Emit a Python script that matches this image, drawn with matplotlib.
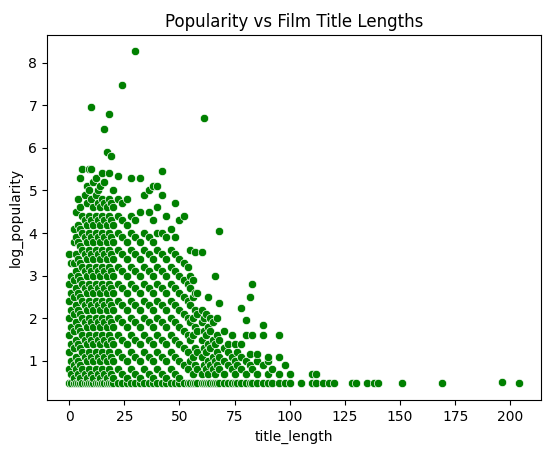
import matplotlib
matplotlib.use("Agg")
import matplotlib.pyplot as plt
import seaborn as sns

##Column samples: title length -> list of log_popularity values
dense_lengths = [0, 1, 2, 3, 4, 5, 6, 7, 8, 9, 10, 11, 12, 13, 14, 15, 16, 17, 18, 19, 20,
                 22, 24, 26, 28, 30, 32, 34, 36, 38, 40, 42, 44, 46, 48, 50]
dense_pops = [
    [0.5, 0.8, 1.2, 1.6, 2.0, 2.4, 2.8, 3.5],
    [0.5, 0.7, 1.0, 1.4, 1.8, 2.2, 2.6, 3.0, 3.3],
    [0.5, 0.6, 0.9, 1.3, 1.7, 2.1, 2.5, 2.9, 3.3, 3.8, 4.1],
    [0.5, 0.8, 1.1, 1.5, 1.9, 2.3, 2.7, 3.1, 3.5, 3.9, 4.5],
    [0.5, 0.7, 1.0, 1.4, 1.8, 2.2, 2.6, 3.0, 3.4, 3.8, 4.2, 4.8],
    [0.5, 0.6, 0.9, 1.3, 1.7, 2.1, 2.5, 2.9, 3.3, 3.7, 4.1, 4.6, 5.3],
    [0.5, 0.8, 1.2, 1.6, 2.0, 2.4, 2.8, 3.2, 3.6, 4.0, 4.4, 5.5],
    [0.5, 0.7, 1.1, 1.5, 1.9, 2.3, 2.7, 3.1, 3.5, 3.9, 4.3, 4.9],
    [0.5, 0.6, 1.0, 1.4, 1.8, 2.2, 2.6, 3.0, 3.4, 3.8, 4.2, 4.7, 5.1],
    [0.5, 0.8, 1.2, 1.6, 2.0, 2.4, 2.8, 3.2, 3.6, 4.0, 4.4, 5.0, 5.5],
    [0.5, 0.7, 1.1, 1.5, 1.9, 2.3, 2.7, 3.1, 3.5, 3.9, 4.3, 4.8, 5.5, 6.95],
    [0.5, 0.6, 1.0, 1.4, 1.8, 2.2, 2.6, 3.0, 3.4, 3.8, 4.2, 4.6, 5.2],
    [0.5, 0.8, 1.2, 1.6, 2.0, 2.4, 2.8, 3.2, 3.6, 4.0, 4.4, 4.9, 5.3],
    [0.5, 0.7, 1.1, 1.5, 1.9, 2.3, 2.7, 3.1, 3.5, 3.9, 4.3, 4.7, 5.0],
    [0.5, 0.6, 1.0, 1.4, 1.8, 2.2, 2.6, 3.0, 3.4, 3.8, 4.2, 4.6, 5.1],
    [0.5, 0.8, 1.2, 1.6, 2.0, 2.4, 2.8, 3.2, 3.6, 4.0, 4.4, 4.8, 5.4],
    [0.5, 0.7, 1.1, 1.5, 1.9, 2.3, 2.7, 3.1, 3.5, 3.9, 4.3, 4.7, 5.2, 6.45],
    [0.5, 0.6, 1.0, 1.4, 1.8, 2.2, 2.6, 3.0, 3.4, 3.8, 4.2, 4.6, 5.9],
    [0.5, 0.8, 1.2, 1.6, 2.0, 2.4, 2.8, 3.2, 3.6, 4.0, 4.4, 4.8, 5.4, 6.8],
    [0.5, 0.7, 1.1, 1.5, 1.9, 2.3, 2.7, 3.1, 3.5, 3.9, 4.3, 4.7, 5.8],
    [0.5, 0.6, 1.0, 1.4, 1.8, 2.2, 2.6, 3.0, 3.4, 3.8, 4.2, 4.6, 5.0],
    [0.5, 0.8, 1.2, 1.6, 2.0, 2.4, 2.8, 3.2, 3.6, 4.0, 4.4, 4.8, 5.35],
    [0.5, 0.7, 1.1, 1.5, 1.9, 2.3, 2.7, 3.1, 3.5, 3.9, 4.3, 4.7, 7.48],
    [0.5, 0.6, 1.0, 1.4, 1.8, 2.2, 2.6, 3.0, 3.4, 3.8, 4.2, 4.8],
    [0.5, 0.8, 1.2, 1.6, 2.0, 2.4, 2.8, 3.2, 3.6, 4.0, 4.4, 5.3],
    [0.5, 0.7, 1.1, 1.5, 1.9, 2.3, 2.7, 3.1, 3.5, 3.9, 4.3, 8.27],
    [0.5, 0.6, 1.0, 1.4, 1.8, 2.2, 2.6, 3.0, 3.4, 3.8, 4.5, 5.3],
    [0.5, 0.8, 1.2, 1.6, 2.0, 2.4, 2.8, 3.2, 3.6, 4.0, 4.9],
    [0.5, 0.7, 1.1, 1.5, 1.9, 2.3, 2.7, 3.1, 3.5, 3.9, 4.5, 5.0],
    [0.5, 0.6, 1.0, 1.4, 1.8, 2.2, 2.6, 3.0, 3.4, 3.8, 4.3, 5.1],
    [0.5, 0.8, 1.2, 1.6, 2.0, 2.4, 2.8, 3.2, 3.6, 4.0, 4.6, 5.1],
    [0.5, 0.7, 1.1, 1.5, 1.9, 2.3, 2.7, 3.1, 3.5, 4.0, 4.9, 5.45],
    [0.5, 0.6, 1.0, 1.4, 1.8, 2.2, 2.6, 3.0, 3.4, 3.9, 4.4],
    [0.5, 0.8, 1.2, 1.6, 2.0, 2.4, 2.8, 3.2, 3.6, 4.1],
    [0.5, 0.7, 1.1, 1.5, 1.9, 2.3, 2.7, 3.1, 3.5, 3.9, 4.7],
    [0.5, 0.6, 1.0, 1.4, 1.8, 2.2, 2.6, 3.0, 3.4, 4.3],
]

##Sparser region to the right of the blob
tail_lengths = [52, 54, 55, 56, 57, 58, 60, 61, 62, 63, 64, 65, 66, 67, 68, 70, 72, 74, 75,
                76, 78, 80, 82, 83, 85, 88, 90, 92, 95, 98, 100, 105, 110, 112, 115, 118, 120]
tail_pops = [
    [0.5, 0.9, 1.3, 1.7, 2.1, 2.5, 2.9, 3.3, 4.4],
    [0.5, 0.8, 1.2, 1.6, 2.0, 2.4, 2.8, 3.2],
    [0.5, 1.0, 1.5, 1.9, 2.3, 2.7, 3.0, 3.6],
    [0.5, 0.7, 1.1, 1.6, 2.0, 2.5, 2.9],
    [0.5, 0.9, 1.3, 1.8, 2.2, 2.6, 3.55],
    [0.5, 0.8, 1.2, 1.7, 2.1, 2.6],
    [0.5, 0.7, 1.1, 1.5, 1.9, 2.2, 3.55],
    [0.5, 0.9, 1.3, 1.7, 2.0, 6.7],
    [0.5, 0.8, 1.2, 1.6, 2.1],
    [0.5, 0.7, 1.0, 1.4, 1.8, 2.5],
    [0.5, 0.9, 1.3, 1.7, 2.0],
    [0.5, 0.8, 1.1, 1.5, 1.9],
    [0.5, 0.7, 1.0, 1.4, 3.0],
    [0.5, 0.9, 1.2, 1.6, 2.0],
    [0.5, 0.8, 1.1, 1.5, 2.35, 4.05],
    [0.5, 0.7, 1.0, 1.3, 1.7],
    [0.5, 0.9, 1.2, 1.4],
    [0.5, 0.8, 1.1, 1.6],
    [0.5, 0.7, 1.0, 1.4],
    [0.5, 0.9, 1.2],
    [0.5, 0.8, 1.1, 1.4, 2.25],
    [0.5, 0.7, 1.0, 1.6, 1.95],
    [0.5, 0.9, 1.15, 2.5],
    [0.5, 0.8, 1.6, 2.8],
    [0.5, 0.7, 1.0, 1.15],
    [0.5, 0.9, 1.6, 1.85],
    [0.5, 0.7, 1.0, 1.1],
    [0.5, 0.8],
    [0.5, 0.7, 1.1, 1.6],
    [0.5, 0.9],
    [0.5, 0.7],
    [0.5],
    [0.5, 0.7],
    [0.5, 0.7],
    [0.5],
    [0.5],
    [0.5],
]

##Single far outliers along the floor
far_lengths = [128, 130, 135, 138, 140, 151, 169, 196, 204]
far_pops = [0.47, 0.47, 0.47, 0.47, 0.47, 0.47, 0.47, 0.5, 0.47]

xs, ys = [], []
for lengths, pops in [(dense_lengths, dense_pops), (tail_lengths, tail_pops)]:
    for x, col in zip(lengths, pops):
        for y in col:
            xs.append(x)
            ys.append(0.47 if y == 0.5 else y)
xs += far_lengths
ys += far_pops

fig, ax = plt.subplots(figsize=(5.54, 4.55), dpi=100)
sns.scatterplot(x=xs, y=ys, color='green', ax=ax)
ax.set_xlabel('title_length')
ax.set_ylabel('log_popularity')
ax.set_title('Popularity vs Film Title Lengths')
ax.set_xlim(-10, 214)
ax.set_ylim(0.07, 8.65)
ax.set_yticks(range(1, 9))
ax.set_xticks(range(0, 201, 25))
plt.subplots_adjust(left=0.085, right=0.977, top=0.923, bottom=0.12)
plt.savefig('out.png')
